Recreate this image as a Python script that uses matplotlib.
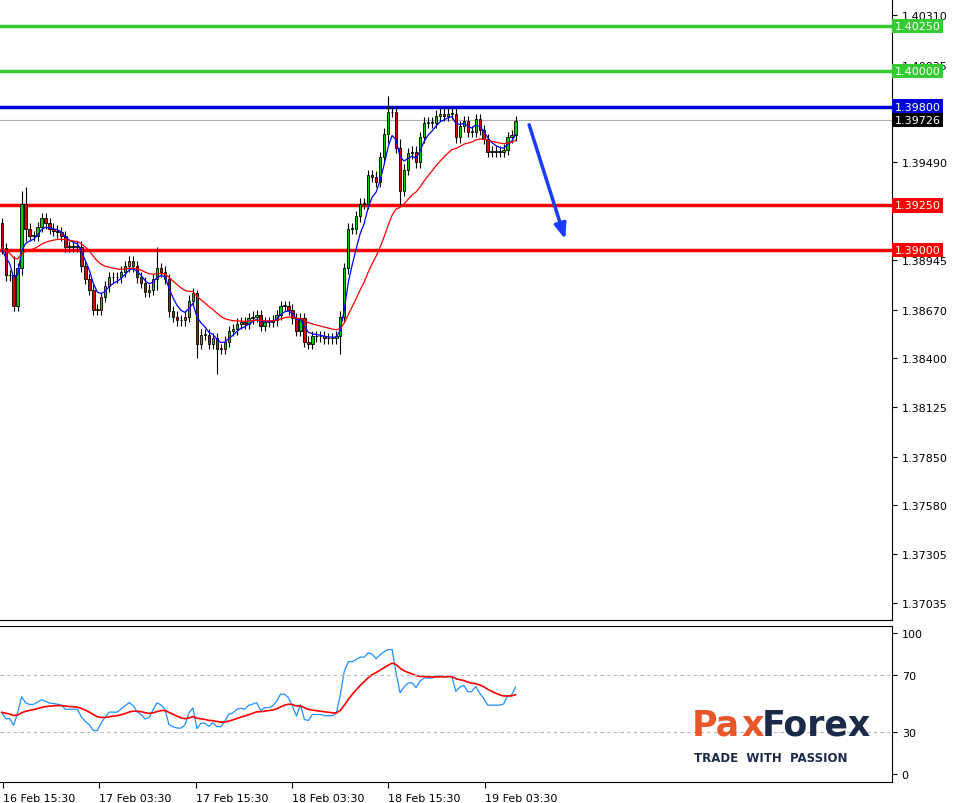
import numpy as np
import matplotlib
matplotlib.use("Agg")
import matplotlib.pyplot as plt

# 30-minute closes
closes = [1.3901, 1.3886, 1.3886, 1.3869, 1.3890, 1.3926, 1.3912, 1.3908, 1.3908, 1.3913,
          1.3918, 1.3915, 1.3912, 1.3911, 1.3910, 1.3908, 1.3902, 1.3902, 1.3902, 1.3902,
          1.3891, 1.3884, 1.3878, 1.3867, 1.3867, 1.3874, 1.3880, 1.3885, 1.3885, 1.3885,
          1.3888, 1.3891, 1.3894, 1.3891, 1.3885, 1.3882, 1.3877, 1.3878, 1.3884, 1.3890,
          1.3888, 1.3884, 1.3866, 1.3863, 1.3861, 1.3861, 1.3863, 1.3872, 1.3876, 1.3848,
          1.3853, 1.3853, 1.3848, 1.3851, 1.3845, 1.3845, 1.3849, 1.3855, 1.3856, 1.3859,
          1.3860, 1.3859, 1.3862, 1.3863, 1.3864, 1.3858, 1.3860, 1.3860, 1.3861, 1.3864,
          1.3869, 1.3869, 1.3867, 1.3862, 1.3855, 1.3862, 1.3849, 1.3848, 1.3852, 1.3852,
          1.3852, 1.3851, 1.3851, 1.3851, 1.3852, 1.3863, 1.3890, 1.3912, 1.3912, 1.3919,
          1.3926, 1.3926, 1.3942, 1.3941, 1.3938, 1.3952, 1.3965, 1.3977, 1.3977, 1.3957,
          1.3933, 1.3945, 1.3954, 1.3955, 1.3949, 1.3963, 1.3971, 1.3971, 1.3971, 1.3975,
          1.3976, 1.3975, 1.3976, 1.3976, 1.3963, 1.3969, 1.3972, 1.3966, 1.3966, 1.3973,
          1.3967, 1.3962, 1.3955, 1.3955, 1.3955, 1.3955, 1.3956, 1.3963, 1.3964, 1.3972]
first_open = 1.3915
# a few visible long wicks: index -> (high, low)
wick_extremes = {5: (1.3933, 1.3886), 6: (1.3935, 1.3905), 3: (1.3897, 1.3866),
                 39: (1.3902, 1.3878), 49: (1.3878, 1.3840), 54: (1.3854, 1.3831),
                 85: (1.3866, 1.3842), 97: (1.3986, 1.3960), 100: (1.3962, 1.3925)}

levels = [1.40250, 1.40000, 1.39800, 1.39250, 1.39000]
level_colors = ["#33cc33", "#33cc33", "#0000dd", "#ff0000", "#ff0000"]
last_price = 1.39726
price_ticks = [1.40310, 1.40035, 1.39490, 1.38945, 1.38670, 1.38400, 1.38125,
               1.37850, 1.37580, 1.37305, 1.37035]
time_labels = ["16 Feb 15:30", "17 Feb 03:30", "17 Feb 15:30", "18 Feb 03:30",
               "18 Feb 15:30", "19 Feb 03:30"]

closes = np.array(closes)
n = len(closes)
opens = np.concatenate([[first_open], closes[:-1]])
highs = np.maximum(opens, closes) + 0.0003
lows = np.minimum(opens, closes) - 0.0003
for i, (h, l) in wick_extremes.items():
    highs[i], lows[i] = h, l
idx = np.arange(n)


def ema(x, p):
    out = np.empty_like(x)
    out[0] = x[0]
    a = 2 / (p + 1)
    for k in range(1, len(x)):
        out[k] = a * x[k] + (1 - a) * out[k - 1]
    return out


def rsi(x, p=14):
    d = np.diff(x, prepend=first_open)
    up = np.clip(d, 0, None)
    dn = np.clip(-d, 0, None)
    au, ad = up[:p].mean(), dn[:p].mean()
    out = np.empty_like(x)
    for k in range(len(x)):
        au = (au * (p - 1) + up[k]) / p
        ad = (ad * (p - 1) + dn[k]) / p
        out[k] = 100 - 100 / (1 + au / max(ad, 1e-9))
    return out


fig = plt.figure(figsize=(9.55, 8.04), dpi=100)
ax = fig.add_axes([0, 0.2276, 0.934, 0.7724])
ax2 = fig.add_axes([0, 0.026, 0.934, 0.194])
xlim = (-0.43, 223.5)

# candles
for i in idx:
    col = "#00cc00" if closes[i] >= opens[i] else "#dd0000"
    ax.vlines(i, lows[i], highs[i], color="black", lw=0.8, zorder=3)
    b0, b1 = sorted([opens[i], closes[i]])
    ax.bar(i, max(b1 - b0, 0.00003), bottom=b0, width=0.6, color=col,
           edgecolor="black", lw=0.6, zorder=4)
ax.plot(idx, ema(closes, 5), color="#0000ff", lw=0.9, zorder=5)
ax.plot(idx, ema(closes, 21), color="#ff0000", lw=0.9, zorder=5)

for lv, c in zip(levels, level_colors):
    ax.axhline(lv, color=c, lw=2.5, zorder=2)
    ax.text(1.003, lv, f"{lv:.5f}", transform=ax.get_yaxis_transform(), va="center",
            ha="left", color="white", fontsize=8,
            bbox=dict(boxstyle="square,pad=0.2", fc=c, ec="none"), clip_on=False)
ax.axhline(last_price, color="#b0b0b0", lw=0.8, zorder=1)
ax.text(1.003, last_price, f"{last_price:.5f}", transform=ax.get_yaxis_transform(),
        va="center", ha="left", color="white", fontsize=8,
        bbox=dict(boxstyle="square,pad=0.2", fc="black", ec="none"), clip_on=False)
ax.annotate("", xy=(141.7, 1.39046), xytext=(132.2, 1.39714),
            arrowprops=dict(arrowstyle="-|>,head_width=0.35,head_length=0.9",
                            color="#1a3cff", lw=2.5))

ax.set_xlim(xlim)
ax.set_ylim(1.3694, 1.4040)
ax.yaxis.tick_right()
ax.set_yticks(price_ticks)
ax.set_yticklabels([f"{t:.5f}" for t in price_ticks], fontsize=8)
ax.set_xticks([])
for s in ["top", "left"]:
    ax.spines[s].set_visible(False)

# oscillator
r = rsi(closes, 14)
ax2.plot(idx, r, color="#1e90ff", lw=0.9)
ax2.plot(idx, ema(r, 14), color="#ff0000", lw=1.2)
for lv in (30, 70):
    ax2.axhline(lv, color="#b8b8b8", lw=0.8, ls=(0, (3, 3)))
ax2.set_xlim(xlim)
ax2.set_ylim(-5.7, 105)
ax2.yaxis.tick_right()
ax2.set_yticks([0, 30, 70, 100])
ax2.tick_params(axis="y", labelsize=8)
ticks = [0.3 + 24.2 * k for k in range(len(time_labels))]
ax2.set_xticks(ticks)
ax2.set_xticklabels(time_labels, fontsize=8, ha="left")
ax2.tick_params(axis="x", length=4)
ax2.spines["left"].set_visible(False)

fig.text(0.724, 0.085, "Pa", color="#e8562a", fontsize=25, fontweight="bold")
fig.text(0.776, 0.085, "x", color="#e8562a", fontsize=25, fontweight="bold")
fig.text(0.798, 0.085, "Forex", color="#1c2a4a", fontsize=25, fontweight="bold")
fig.text(0.727, 0.052, "TRADE  WITH  PASSION", color="#1c2a4a",
         fontsize=8.5, fontweight="bold")

fig.savefig("out.png", dpi=100, facecolor="white")
